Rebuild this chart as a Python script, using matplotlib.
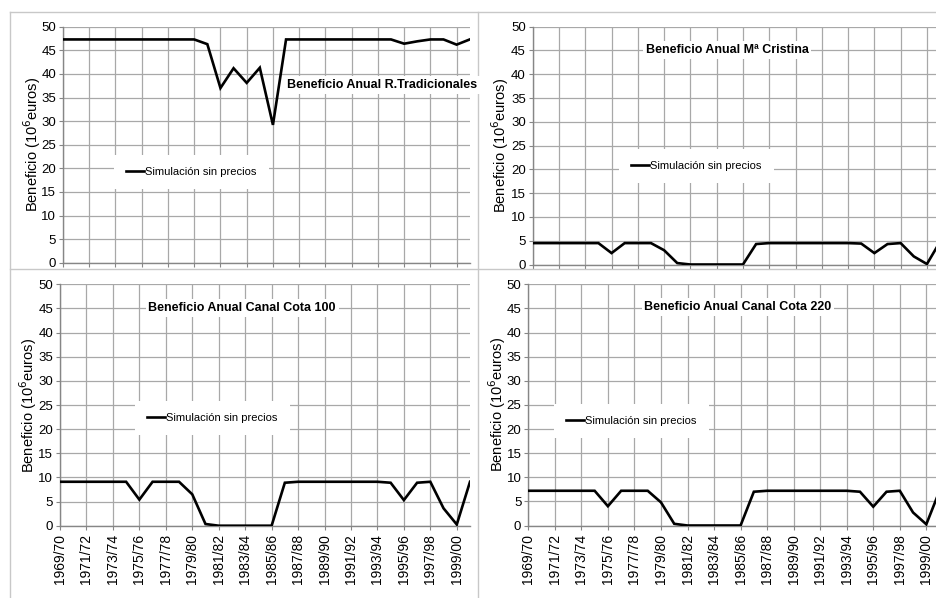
import matplotlib
matplotlib.use('Agg')
import matplotlib.pyplot as plt
from matplotlib.lines import Line2D

# datos: beneficio anual (10^6 euros), simulacion sin precios
temporadas = ['1969/70', '1970/71', '1971/72', '1972/73', '1973/74', '1974/75',
              '1975/76', '1976/77', '1977/78', '1978/79', '1979/80', '1980/81',
              '1981/82', '1982/83', '1983/84', '1984/85', '1985/86', '1986/87',
              '1987/88', '1988/89', '1989/90', '1990/91', '1991/92', '1992/93',
              '1993/94', '1994/95', '1995/96', '1996/97', '1997/98', '1998/99',
              '1999/00', '2000/01']

r_tradicionales = [47.3, 47.3, 47.3, 47.3, 47.3, 47.3, 47.3, 47.3, 47.3, 47.3,
                   47.3, 46.3, 37.0, 41.2, 38.1, 41.3, 29.2, 47.3, 47.3, 47.3,
                   47.3, 47.3, 47.3, 47.3, 47.3, 47.3, 46.4, 46.9, 47.3, 47.3,
                   46.2, 47.3]
ma_cristina = [4.5, 4.5, 4.5, 4.5, 4.5, 4.5, 2.4, 4.5, 4.5, 4.5,
               3.0, 0.3, 0.0, 0.0, 0.0, 0.0, 0.0, 4.3, 4.5, 4.5,
               4.5, 4.5, 4.5, 4.5, 4.5, 4.4, 2.4, 4.3, 4.5, 1.7,
               0.1, 4.8]
cota_100 = [9.1, 9.1, 9.1, 9.1, 9.1, 9.1, 5.4, 9.1, 9.1, 9.1,
            6.5, 0.35, 0.0, 0.0, 0.0, 0.0, 0.0, 8.9, 9.1, 9.1,
            9.1, 9.1, 9.1, 9.1, 9.1, 8.9, 5.3, 8.9, 9.1, 3.6,
            0.25, 9.1]
cota_220 = [7.2, 7.2, 7.2, 7.2, 7.2, 7.2, 4.0, 7.2, 7.2, 7.2,
            4.8, 0.35, 0.0, 0.0, 0.0, 0.0, 0.0, 7.0, 7.2, 7.2,
            7.2, 7.2, 7.2, 7.2, 7.2, 7.0, 3.9, 7.0, 7.2, 2.7,
            0.25, 7.2]

titulos = ['Beneficio Anual R.Tradicionales', 'Beneficio Anual M\u00aa Cristina',
           'Beneficio Anual Canal Cota 100', 'Beneficio Anual Canal Cota 220']
serie_label = 'Simulaci\u00f3n sin precios'
ylabel = 'Beneficio (10$^{6}$euros)'

W, H = 936, 598
plt.rcParams['font.family'] = ['Liberation Sans', 'DejaVu Sans']

fig = plt.figure(figsize=(W / 100, H / 100), dpi=100)
fig.patch.set_facecolor('white')

def px_rect(l, r, t, b):
    return [l / W, 1 - b / H, (r - l) / W, (b - t) / H]

def fx(x):
    return x / W

def fy(y):
    return 1 - y / H

# marcos de los graficos (recortados)
borde = '#c8c8c8'
fig.add_artist(Line2D([fx(10), fx(936)], [fy(12), fy(12)], color=borde, lw=1))
fig.add_artist(Line2D([fx(10), fx(10)], [fy(12), fy(598)], color=borde, lw=1))
fig.add_artist(Line2D([fx(10), fx(936)], [fy(268.5), fy(268.5)], color=borde, lw=1))
fig.add_artist(Line2D([fx(478.5), fx(478.5)], [fy(12), fy(598)], color=borde, lw=1))

# (rect in px, xlim max, series, title center, legend pos, ylabel x, xlabels?)
paneles = [
    (px_rect(63, 470, 26.7, 262.7), 31.02, r_tradicionales, (382, 85), (114, 172), 32, False),
    (px_rect(532.7, 936, 26.7, 264.5), 30.69, ma_cristina, (727, 50), (619, 166), 500, False),
    (px_rect(60, 470, 284.3, 525.7), 31.0, cota_100, (242, 308), (135, 418), 28, True),
    (px_rect(528.3, 936, 284.3, 525.5), 30.73, cota_220, (738, 307), (554, 421), 497, True),
]

for i, (rect, xmax, vals, tpos, lpos, ylx, show_x) in enumerate(paneles):
    ax = fig.add_axes(rect)
    ax.plot(range(len(vals)), vals, color='black', lw=1.9, solid_joinstyle='miter',
            label=serie_label, zorder=3)
    ax.set_xlim(0, xmax)
    ax.set_ylim(0, 50)
    ax.set_yticks(range(0, 51, 5))
    ax.set_xticks(range(0, len(temporadas), 2))
    if show_x:
        ax.set_xticklabels(temporadas[::2], rotation=90, fontsize=10)
    else:
        ax.set_xticklabels([])
    ax.tick_params(axis='y', labelsize=9.5, length=3, color='#868686', pad=2)
    ax.tick_params(axis='x', length=3, color='#868686', pad=3)
    ax.grid(True, color='#a8a8a8', lw=0.9)
    ax.set_axisbelow(True)
    for s in ['top', 'right']:
        ax.spines[s].set_visible(False)
    for s in ['left', 'bottom']:
        ax.spines[s].set_color('#868686')
        ax.spines[s].set_linewidth(1)
    # eje y
    yc = (rect[1] + rect[3] / 2)
    fig.text(fx(ylx), yc, ylabel, rotation=90, ha='center', va='center', fontsize=10.5)
    # titulo
    fig.text(fx(tpos[0]), fy(tpos[1]), titulos[i], ha='center', va='center',
             fontsize=9, fontweight='bold',
             bbox=dict(facecolor='white', edgecolor='none', pad=2))
    # leyenda
    leg = ax.legend(loc='center left', bbox_to_anchor=(fx(lpos[0]), fy(lpos[1])),
                    bbox_transform=fig.transFigure, borderaxespad=0, borderpad=1.1,
                    handlelength=1.6, handletextpad=0.1, fancybox=False,
                    framealpha=1, edgecolor='none', prop={'size': 8})
    leg.get_frame().set_facecolor('white')

fig.savefig('out.png', dpi=100)
